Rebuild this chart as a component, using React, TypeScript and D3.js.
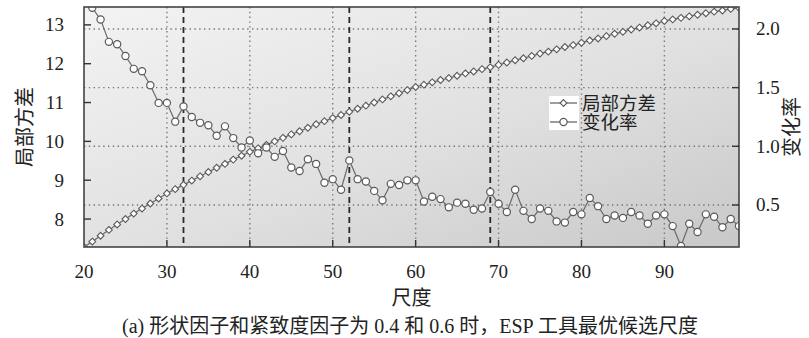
import React from 'react';
import * as d3 from 'd3';

// scale parameter (x axis)
const scaleValues = d3.range(20, 100);

// 局部方差 (left axis), one value per scale 20..99
const localVariance = [
  7.28, 7.42, 7.57, 7.72, 7.86, 8.0, 8.14, 8.27, 8.4, 8.53,
  8.66, 8.77, 8.88, 8.99, 9.1, 9.21, 9.32, 9.42, 9.53, 9.63,
  9.73, 9.82, 9.91, 10.0, 10.09, 10.18, 10.26, 10.35, 10.44, 10.52,
  10.6, 10.68, 10.76, 10.84, 10.92, 11.0, 11.08, 11.16, 11.24, 11.32,
  11.4, 11.46, 11.52, 11.58, 11.63, 11.69, 11.75, 11.8, 11.86, 11.91,
  11.97, 12.03, 12.09, 12.14, 12.2, 12.26, 12.31, 12.37, 12.43, 12.48,
  12.54, 12.6, 12.65, 12.71, 12.77, 12.82, 12.88, 12.93, 12.99, 13.04,
  13.1, 13.14, 13.18, 13.22, 13.26, 13.3, 13.34, 13.37, 13.41, 13.44,
];

// 变化率 (right axis)
const changeRate = [
  2.35, 2.18, 2.08, 1.89, 1.87, 1.77, 1.66, 1.64, 1.52, 1.37,
  1.37, 1.21, 1.34, 1.25, 1.2, 1.18, 1.09, 1.17, 1.07, 0.99,
  1.05, 0.94, 0.99, 0.91, 0.96, 0.82, 0.79, 0.89, 0.85, 0.69,
  0.72, 0.63, 0.88, 0.72, 0.7, 0.62, 0.54, 0.68, 0.67, 0.71,
  0.71, 0.53, 0.57, 0.55, 0.48, 0.52, 0.51, 0.46, 0.47, 0.61,
  0.51, 0.44, 0.63, 0.45, 0.38, 0.47, 0.45, 0.36, 0.35, 0.44,
  0.42, 0.56, 0.49, 0.38, 0.41, 0.39, 0.44, 0.41, 0.34, 0.41,
  0.42, 0.32, 0.15, 0.34, 0.27, 0.42, 0.4, 0.31, 0.38, 0.32,
];

const optimalScales = [32, 52, 69];
const xTicks = [20, 30, 40, 50, 60, 70, 80, 90];
const leftTicks = [8, 9, 10, 11, 12, 13];
const rightTicks = [0.5, 1.0, 1.5, 2.0];

const W = 809;
const H = 338;
const margin = { top: 7, right: 70, bottom: 91, left: 84 };
const font = "'Liberation Serif', 'DejaVu Serif', 'Noto Sans CJK SC', serif";
const txt = { fontFamily: font };

export default function App() {
  const x0 = margin.left;
  const x1 = W - margin.right;
  const y0 = margin.top;
  const y1 = H - margin.bottom;

  const x = d3.scaleLinear().domain([20, 99]).range([x0, x1]);
  const yL = d3.scaleLinear().domain([7.28, 13.46]).range([y1, y0]);
  const yR = d3.scaleLinear().domain([0.142, 2.187]).range([y1, y0]);

  const varPts = scaleValues.map((s, i) => ({ s, v: localVariance[i] }));
  const ratePts = scaleValues.map((s, i) => ({ s, v: changeRate[i] }));

  const varLine = d3.line<{ s: number; v: number }>().x(d => x(d.s)).y(d => yL(d.v));
  const rateLine = d3.line<{ s: number; v: number }>().x(d => x(d.s)).y(d => yR(d.v));

  const inside = (v: number, dom: number[]) => v >= dom[0] - 1e-9 && v <= dom[1] + 1e-9;

  const lineColor = '#6a6a6a';
  const markerStroke = '#5a5a5a';

  const diamond = (cx: number, cy: number, r: number) =>
    `M${cx},${cy - r}L${cx + r},${cy}L${cx},${cy + r}L${cx - r},${cy}Z`;

  const legendX = 550;
  const legendRows = [
    { label: '局部方差', y: 103, marker: 'diamond' },
    { label: '变化率', y: 122, marker: 'circle' },
  ];

  return (
    <svg width={W} height={H} style={{ position: 'absolute', left: 0, top: 0, background: '#fff' }}>
      <defs>
        <linearGradient id="bg" x1="0" y1="0" x2="1" y2="1">
          <stop offset="0%" stopColor="#f3f3f3" />
          <stop offset="55%" stopColor="#e0e0e0" />
          <stop offset="100%" stopColor="#c8c8c8" />
        </linearGradient>
        <clipPath id="plotClip">
          <rect x={x0} y={y0} width={x1 - x0} height={y1 - y0} />
        </clipPath>
      </defs>

      {/* plot background */}
      <rect x={x0} y={y0} width={x1 - x0} height={y1 - y0} fill="url(#bg)" />

      {/* grid */}
      {xTicks.filter(t => t > 20).map(t => (
        <line key={'gx' + t} x1={x(t)} x2={x(t)} y1={y0} y2={y1}
          stroke="#777" strokeWidth={1.4} strokeDasharray="1.4,3.4" />
      ))}
      {rightTicks.map(t => (
        <line key={'gy' + t} x1={x0} x2={x1} y1={yR(t)} y2={yR(t)}
          stroke="#777" strokeWidth={1.4} strokeDasharray="1.4,3.4" />
      ))}

      {/* optimal scales */}
      {optimalScales.map(s => (
        <line key={'opt' + s} x1={x(s)} x2={x(s)} y1={y0} y2={y1}
          stroke="#2a2a2a" strokeWidth={1.8} strokeDasharray="6,4" />
      ))}

      {/* series */}
      <g clipPath="url(#plotClip)">
        <path d={varLine(varPts) || ''} fill="none" stroke={lineColor} strokeWidth={1.2} />
        <path d={rateLine(ratePts) || ''} fill="none" stroke={lineColor} strokeWidth={1.2} />
        {varPts.filter(d => inside(d.v, yL.domain())).map(d => (
          <path key={'d' + d.s} d={diamond(x(d.s), yL(d.v), 3.4)}
            fill="#fff" stroke={markerStroke} strokeWidth={1.1} />
        ))}
        {ratePts.filter(d => inside(d.v, yR.domain())).map(d => (
          <circle key={'c' + d.s} cx={x(d.s)} cy={yR(d.v)} r={3.6}
            fill="#fff" stroke={markerStroke} strokeWidth={1.2} />
        ))}
      </g>

      {/* legend */}
      <rect x={legendX - 1} y={96} width={30} height={34} fill="#fff" />
      {legendRows.map(r => (
        <g key={r.label}>
          <line x1={legendX} x2={legendX + 27} y1={r.y} y2={r.y} stroke={lineColor} strokeWidth={1.3} />
          {r.marker === 'diamond'
            ? <path d={diamond(legendX + 13.5, r.y, 3.4)} fill="#fff" stroke={markerStroke} strokeWidth={1.1} />
            : <circle cx={legendX + 13.5} cy={r.y} r={3.6} fill="#fff" stroke={markerStroke} strokeWidth={1.2} />}
          <text x={legendX + 32} y={r.y + 6.5} style={txt} fontSize={18.5} fill="#222">{r.label}</text>
        </g>
      ))}

      {/* frame */}
      <rect x={x0} y={y0} width={x1 - x0} height={y1 - y0} fill="none" stroke="#444" strokeWidth={1.6} />

      {/* ticks (inward) */}
      {xTicks.filter(t => t > 20).map(t => (
        <line key={'tx' + t} x1={x(t)} x2={x(t)} y1={y1} y2={y1 - 7} stroke="#333" strokeWidth={1.4} />
      ))}
      {leftTicks.map(t => (
        <line key={'tl' + t} x1={x0} x2={x0 + 7} y1={yL(t)} y2={yL(t)} stroke="#333" strokeWidth={1.4} />
      ))}
      {rightTicks.map(t => (
        <line key={'tr' + t} x1={x1} x2={x1 - 7} y1={yR(t)} y2={yR(t)} stroke="#333" strokeWidth={1.4} />
      ))}

      {/* tick labels */}
      {xTicks.map(t => (
        <text key={'lx' + t} x={x(t)} y={278} textAnchor="middle" style={txt} fontSize={19} fill="#222">{t}</text>
      ))}
      {leftTicks.map(t => (
        <text key={'ll' + t} x={64} y={yL(t) + 6.5} textAnchor="end" style={txt} fontSize={19} fill="#222">{t}</text>
      ))}
      {rightTicks.map(t => (
        <text key={'lr' + t} x={756} y={yR(t) + 6.5} textAnchor="start" style={txt} fontSize={19} fill="#222">{d3.format('.1f')(t)}</text>
      ))}

      {/* axis titles */}
      <text transform={`translate(32,${(y0 + y1) / 2}) rotate(-90)`} textAnchor="middle"
        style={txt} fontSize={20} fill="#222">局部方差</text>
      <text transform={`translate(799,${(y0 + y1) / 2}) rotate(-90)`} textAnchor="middle"
        style={txt} fontSize={20} fill="#222">变化率</text>
      <text x={(x0 + x1) / 2} y={305} textAnchor="middle" style={txt} fontSize={20} fill="#222">尺度</text>

      {/* caption */}
      <text x={410} y={333} textAnchor="middle" style={txt} fontSize={20} fill="#222">
        (a) 形状因子和紧致度因子为 0.4 和 0.6 时，ESP 工具最优候选尺度
      </text>
    </svg>
  );
}
